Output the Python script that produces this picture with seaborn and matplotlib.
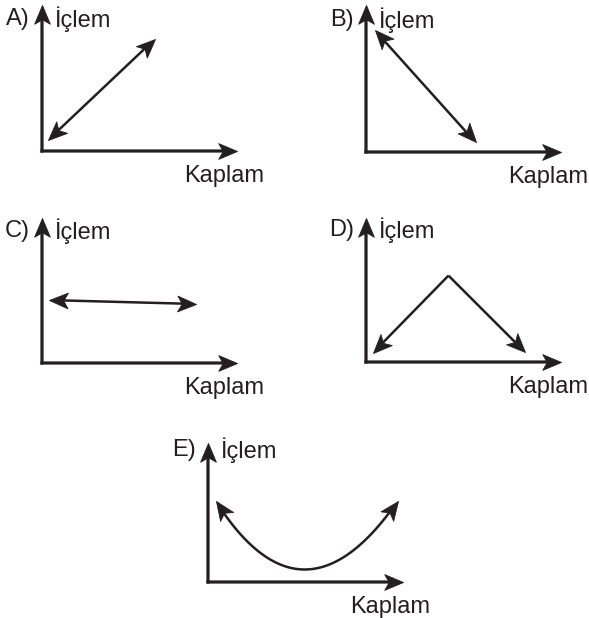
import matplotlib
matplotlib.use("Agg")
import numpy as np
import matplotlib.pyplot as plt
import seaborn as sns
from matplotlib.markers import MarkerStyle
from matplotlib.path import Path
from matplotlib.transforms import Affine2D

# Panel letters and axis captions
LETTERS = ["A)", "B)", "C)", "D)", "E)"]
Y_LABEL = "İçlem"
X_LABEL = "Kaplam"

# Line data per panel (axis units 0..10, origin at the corner)
A_x = [0.31, 5.79]
A_y = [0.75, 7.67]
B_x = [0.46, 5.62]
B_y = [8.27, 0.65]
C_x = [0.36, 7.90]
C_y = [4.34, 4.07]
D_x = [0.36, 4.23, 8.14]
D_y = [0.64, 6.00, 0.71]
E_x = [0.41, 4.97, 9.74]   # left end, lowest point, right end
E_y = [5.80, 0.90, 5.85]

INK = "#231f20"
W, H = 589, 618
# panel origin in pixels (x, y from top) and axis height in pixels
ORIGINS = [(42, 151), (366, 152), (42, 363), (366, 362), (208, 582)]
HEIGHTS = [146, 147, 145, 144, 139]
AX_LEN = 195
HEAD_SIZE = 27

sns.set_theme(style="white")
plt.rcParams["font.family"] = ["Liberation Sans", "DejaVu Sans"]

fig = plt.figure(figsize=(W / 100, H / 100), dpi=100)
fig.patch.set_facecolor("white")

# stealth-like arrowhead, tip at the origin, pointing to +x
HEAD = Path([(0, 0), (-1, 0.42), (-0.76, 0), (-1, -0.42), (0, 0)],
            [Path.MOVETO, Path.LINETO, Path.LINETO, Path.LINETO, Path.CLOSEPOLY])


def head(ax, tip, prev, size=HEAD_SIZE):
    """Arrowhead at `tip`, oriented along prev -> tip in screen space."""
    p0, p1 = ax.transData.transform([prev, tip])
    ang = np.degrees(np.arctan2(p1[1] - p0[1], p1[0] - p0[0]))
    m = MarkerStyle(HEAD, transform=Affine2D().rotate_deg(ang))
    ax.plot([tip[0]], [tip[1]], marker=m, ms=size, color=INK, mew=0.6,
            mec=INK, ls="none", clip_on=False, zorder=5)


def seg(ax, start, end, lw=1.8, shrink_a=0, shrink_b=0, cap="butt"):
    ax.annotate("", xy=end, xytext=start,
                arrowprops=dict(arrowstyle="-", lw=lw, color=INK,
                                shrinkA=shrink_a, shrinkB=shrink_b,
                                capstyle=cap),
                annotation_clip=False)


axes = []
for (ox, oy), h, letter in zip(ORIGINS, HEIGHTS, LETTERS):
    ax = fig.add_axes([ox / W, 1 - oy / H, AX_LEN / W, h / H])
    ax.set_xlim(0, 10)
    ax.set_ylim(0, 10)
    ax.axis("off")
    # axes drawn as arrows
    seg(ax, (0, 0), (0, 10), lw=2.3, shrink_b=8, cap="projecting")
    seg(ax, (0, 0), (10, 0), lw=2.3, shrink_b=8, cap="projecting")
    head(ax, (0, 10), (0, 0))
    head(ax, (10, 0), (0, 0))
    txt = dict(textcoords="offset points", xycoords="data", fontsize=17,
               color=INK, va="baseline", annotation_clip=False)
    ax.annotate(letter, xy=(0, 0), xytext=(-8.6, 90.5), ha="right", **txt)
    ax.annotate(Y_LABEL, xy=(0, 0), xytext=(9.4, 89.5), ha="left", **txt)
    ax.annotate(X_LABEL, xy=(0, 0), xytext=(160, -22.5), ha="right", **txt)
    axes.append(ax)

# A, B, C: double-headed straight arrows
for ax, xs, ys in [(axes[0], A_x, A_y), (axes[1], B_x, B_y), (axes[2], C_x, C_y)]:
    seg(ax, (xs[0], ys[0]), (xs[1], ys[1]), shrink_a=8, shrink_b=8)
    head(ax, (xs[0], ys[0]), (xs[1], ys[1]))
    head(ax, (xs[1], ys[1]), (xs[0], ys[0]))

# D: peak with arrows going down to both sides
axD = axes[3]
for i in (0, 2):
    seg(axD, (D_x[1], D_y[1]), (D_x[i], D_y[i]), shrink_b=8)
    head(axD, (D_x[i], D_y[i]), (D_x[1], D_y[1]))


def bez(p0, c, p2, t):
    return (1 - t) ** 2 * p0 + 2 * (1 - t) * t * c + t ** 2 * p2


# E: U-shaped curve (quadratic through the lowest point)
axE = axes[4]
P0 = np.array([E_x[0], E_y[0]])
P2 = np.array([E_x[2], E_y[2]])
C = 2 * np.array([E_x[1], E_y[1]]) - (P0 + P2) / 2
t = np.linspace(0.045, 0.955, 80)
pts = np.array([bez(P0, C, P2, s) for s in t])
sns.lineplot(x=pts[:, 0], y=pts[:, 1], ax=axE, color=INK, lw=1.8,
             sort=False, estimator=None)
head(axE, tuple(P0), tuple(bez(P0, C, P2, 0.07)))
head(axE, tuple(P2), tuple(bez(P0, C, P2, 0.93)))

fig.savefig("out.png", dpi=100, facecolor="white")
